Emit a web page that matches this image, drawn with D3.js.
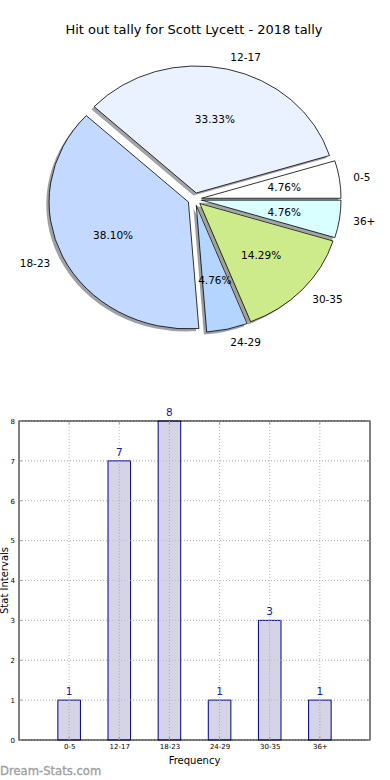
<!DOCTYPE html>
<html>
<head>
<meta charset="utf-8">
<script src="https://cdn.jsdelivr.net/npm/d3@7"></script>
<style>
  html, body { margin: 0; padding: 0; background: #fff; }
  svg { display: block; font-family: "DejaVu Sans", sans-serif; }
</style>
</head>
<body>
<svg id="chart" width="390" height="780"></svg>
<script>
const categories = ["0-5", "12-17", "18-23", "24-29", "30-35", "36+"];
const values = [1, 7, 8, 1, 3, 1];
const pieColors = ["#ffffff", "#eaf1ff", "#c3d9ff", "#b3d5ff", "#cdeb8b", "#d9ffff"];
const yTicks = [0, 1, 2, 3, 4, 5, 6, 7, 8];
const titleText = "Hit out tally for Scott Lycett - 2018 tally";

const svg = d3.select("#chart");

// ---------- Title ----------
svg.append("text").attr("x", 194).attr("y", 34).attr("text-anchor", "middle")
  .attr("font-size", 13).attr("fill", "#000").text(titleText);

// ---------- Pie (elliptical, as in the reference) ----------
const cx = 194.7, cy = 199.2, rx = 139.4, ry = 127;
const explode = 0.05, labelDist = 1.1, pctDist = 0.6;
const total = d3.sum(values);
const pie = d3.pie().sort(null).value(d => d)
  .startAngle(Math.PI / 2).endAngle(Math.PI / 2 - 2 * Math.PI);
const arcs = pie(values);
const arcGen = d3.arc().innerRadius(0).outerRadius(1);

function mid(a) { return (a.startAngle + a.endAngle) / 2; }
function pt(a, dist) {
  const m = mid(a);
  return [cx + (explode + dist) * rx * Math.sin(m), cy - (explode + dist) * ry * Math.cos(m)];
}

const pieG = svg.append("g");
// shadows first
arcs.forEach((a, i) => {
  const [ox, oy] = pt(a, 0);
  const c = d3.color(pieColors[i]);
  pieG.append("path")
    .attr("d", arcGen(a))
    .attr("transform", `translate(${ox - 0.02 * rx},${oy + 0.02 * ry}) scale(${rx},${ry})`)
    .attr("fill", d3.rgb(c.r * 0.3, c.g * 0.3, c.b * 0.3))
    .attr("fill-opacity", 0.5);
});
arcs.forEach((a, i) => {
  const [ox, oy] = pt(a, 0);
  pieG.append("path")
    .attr("d", arcGen(a))
    .attr("transform", `translate(${ox},${oy}) scale(${rx},${ry})`)
    .attr("fill", pieColors[i])
    .attr("stroke", "#000")
    .attr("stroke-width", 0.8)
    .attr("vector-effect", "non-scaling-stroke");
});
arcs.forEach((a, i) => {
  const [lx, ly] = pt(a, labelDist);
  pieG.append("text").attr("x", lx).attr("y", ly)
    .attr("text-anchor", Math.sin(mid(a)) > 0 ? "start" : "end")
    .attr("dominant-baseline", "central")
    .attr("font-size", 10.5).attr("fill", "#000").text(categories[i]);
  const [px, py] = pt(a, pctDist);
  pieG.append("text").attr("x", px).attr("y", py)
    .attr("text-anchor", "middle").attr("dominant-baseline", "central")
    .attr("font-size", 10.5).attr("fill", "#000")
    .text((values[i] / total * 100).toFixed(2) + "%");
});

// ---------- Bar chart ----------
const L = 19, R = 370, T = 421, B = 740;
const x = d3.scaleLinear().domain([-1, 6]).range([L, R]);
const y = d3.scaleLinear().domain([0, 8]).range([B, T]);
const barW = 0.45;
const bg = svg.append("g");

// grid
const gridColor = "#b8b8b8";
yTicks.forEach(t => {
  bg.append("line").attr("x1", L).attr("x2", R).attr("y1", y(t)).attr("y2", y(t))
    .attr("stroke", gridColor).attr("stroke-width", 1).attr("stroke-dasharray", "1,2");
});
categories.forEach((c, i) => {
  bg.append("line").attr("x1", x(i)).attr("x2", x(i)).attr("y1", T).attr("y2", B)
    .attr("stroke", gridColor).attr("stroke-width", 1).attr("stroke-dasharray", "1,2");
});

// bars
bg.selectAll("rect.bar").data(values).enter().append("rect")
  .attr("x", (d, i) => x(i - barW / 2))
  .attr("width", (d, i) => x(i + barW / 2) - x(i - barW / 2))
  .attr("y", d => y(d)).attr("height", d => B - y(d))
  .attr("fill", "#ccccE2").attr("fill-opacity", 0.85).attr("stroke", "#000088").attr("stroke-width", 1);

// grid over bars (matplotlib shows dotted grid through bars)
categories.forEach((c, i) => {
  bg.append("line").attr("x1", x(i)).attr("x2", x(i)).attr("y1", y(values[i])).attr("y2", B)
    .attr("stroke", "#aaaabb").attr("stroke-width", 1).attr("stroke-dasharray", "1,2");
});
yTicks.forEach(t => {
  bg.append("line").attr("x1", L).attr("x2", R).attr("y1", y(t)).attr("y2", y(t))
    .attr("stroke", gridColor).attr("stroke-width", 1).attr("stroke-dasharray", "1,2")
    .attr("stroke-opacity", 0.6);
});

// value labels
bg.selectAll("text.val").data(values).enter().append("text")
  .attr("x", (d, i) => x(i)).attr("y", d => y(d) - 5)
  .attr("text-anchor", "middle").attr("font-size", 10.5).attr("fill", "#1a1aa0")
  .text(d => d);

// frame
bg.append("rect").attr("x", L).attr("y", T).attr("width", R - L).attr("height", B - T)
  .attr("fill", "none").attr("stroke", "#000").attr("stroke-width", 1);

// ticks (inward, classic style)
yTicks.forEach(t => {
  bg.append("line").attr("x1", L).attr("x2", L + 3).attr("y1", y(t)).attr("y2", y(t)).attr("stroke", "#999");
  bg.append("line").attr("x1", R - 3).attr("x2", R).attr("y1", y(t)).attr("y2", y(t)).attr("stroke", "#999");
});
categories.forEach((c, i) => {
  bg.append("line").attr("x1", x(i)).attr("x2", x(i)).attr("y1", T).attr("y2", T + 3).attr("stroke", "#999");
  bg.append("line").attr("x1", x(i)).attr("x2", x(i)).attr("y1", B - 3).attr("y2", B).attr("stroke", "#999");
});

// tick labels
const yAxis = d3.axisLeft(y).tickValues(yTicks).tickSize(0).tickPadding(4).tickFormat(d3.format("d"));
const ya = svg.append("g").attr("transform", `translate(${L},0)`).call(yAxis);
ya.select(".domain").remove();
ya.selectAll("text").attr("font-size", 7).attr("font-family", "DejaVu Sans").attr("fill", "#000");

const xAxis = d3.axisBottom(x).tickValues(d3.range(categories.length)).tickSize(0).tickPadding(4)
  .tickFormat(i => categories[i]);
const xa = svg.append("g").attr("transform", `translate(0,${B})`).call(xAxis);
xa.select(".domain").remove();
xa.selectAll("text").attr("font-size", 7).attr("font-family", "DejaVu Sans").attr("fill", "#000");

// axis titles
svg.append("text").attr("x", (L + R) / 2).attr("y", 764).attr("text-anchor", "middle")
  .attr("font-size", 10).attr("fill", "#000").text("Frequency");
svg.append("text").attr("transform", `translate(8,${(T + B) / 2}) rotate(-90)`)
  .attr("text-anchor", "middle").attr("font-size", 10).attr("fill", "#000").text("Stat Intervals");

// watermark
svg.append("text").attr("x", 0).attr("y", 775).attr("font-size", 11.6)
  .attr("fill", "#a0a0a0").attr("stroke", "#a0a0a0").attr("stroke-width", 0.35)
  .text("Dream-Stats.com");
</script>
</body>
</html>
